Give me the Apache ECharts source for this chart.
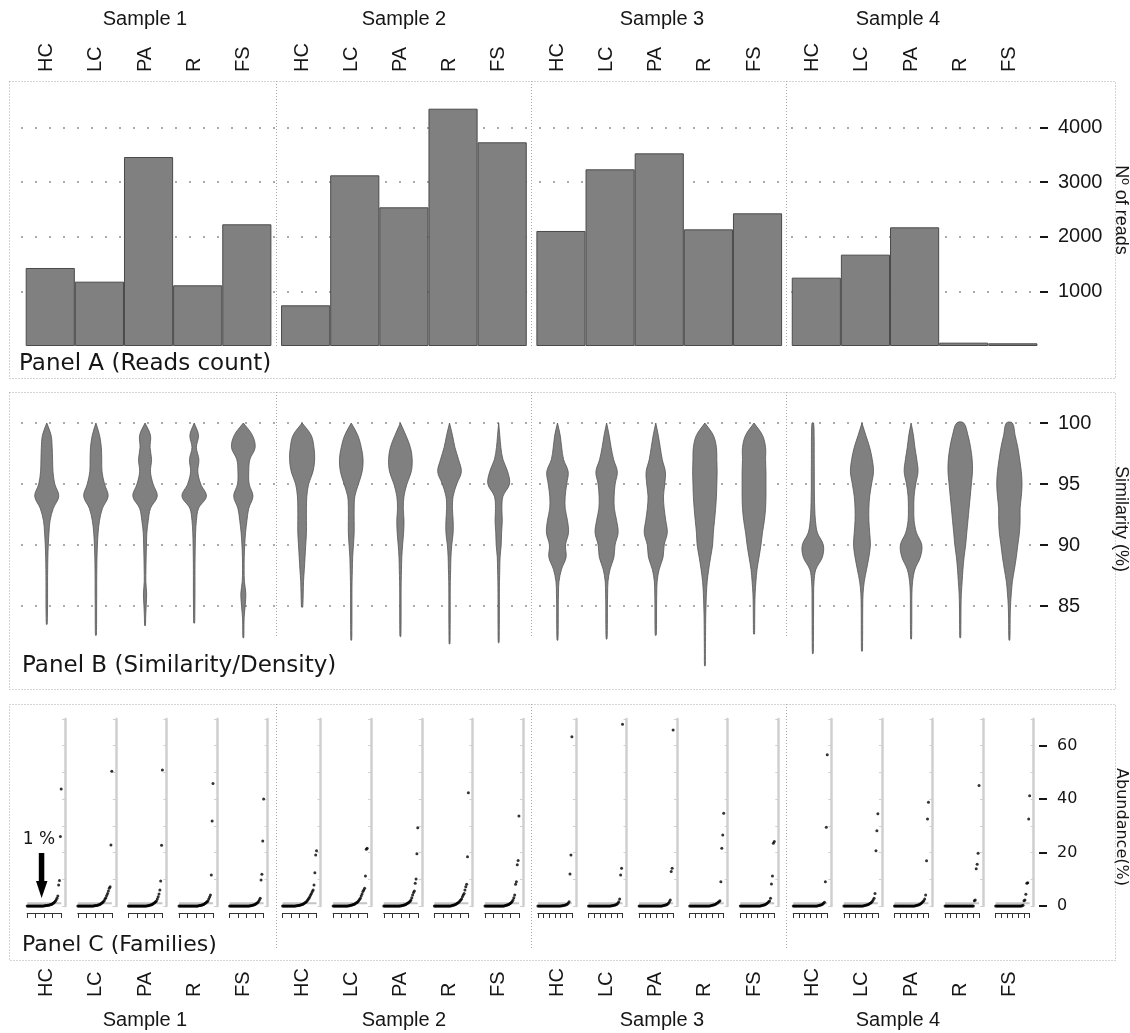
<!DOCTYPE html>
<html><head><meta charset="utf-8">
<script src="https://cdn.jsdelivr.net/npm/echarts@6.0.0/dist/echarts.min.js"></script>
<style>html,body{margin:0;padding:0;background:#fff}#c{width:1130px;height:1033px}</style>
</head><body><div id="c"></div>
<script>
// ---------------- DATA ----------------
const samples = ['Sample 1', 'Sample 2', 'Sample 3', 'Sample 4'];
const categories = ['HC', 'LC', 'PA', 'R', 'FS'];

// Panel A: number of reads
const readsTicks = [1000, 2000, 3000, 4000];
const readsSample1 = [1427, 1177, 3457, 1110, 2226];
const readsSample2 = [744, 3122, 2537, 4341, 3726];
const readsSample3 = [2104, 3232, 3524, 2134, 2427];
const readsSample4 = [1250, 1671, 2171, 61, 49];

// Panel B: similarity density (half-width of violin) at each similarity level
const simTicks = [85, 90, 95, 100];
const simLevels = [100, 99, 98, 97, 96, 95, 94, 93, 92, 91, 90, 89, 88, 87, 86, 85, 84, 83, 82, 81];
const simSample1 = [
  [0, 4.3, 5.4, 5.8, 6.2, 8, 12, 6.5, 3.3, 2.2, 1.5, 1.1, 0.9, 0.8, 0.8, 0.8, 0.6, 0, 0, 0],
  [0, 3.6, 5.4, 5.8, 6.1, 8.6, 12.2, 6.5, 3.6, 2.2, 1.5, 1.1, 0.9, 0.8, 0.8, 0.7, 0.7, 0.6, 0, 0],
  [0, 5.4, 5, 6.5, 5.4, 8, 12.2, 5.4, 3.2, 1.8, 1.4, 1.1, 0.9, 0.8, 1.6, 1.1, 0.6, 0, 0, 0],
  [0, 4.3, 2.2, 4.7, 3.6, 6.5, 12.2, 4.3, 2.2, 1.4, 1.1, 0.9, 0.8, 0.8, 0.8, 0.7, 0.6, 0, 0, 0],
  [0, 9, 11.8, 6.5, 5.4, 5.8, 9.6, 5.4, 3.6, 2.2, 1.4, 0.9, 0.8, 1.1, 2.5, 1.8, 0.8, 0.6, 0, 0]
];
const simMinSample1 = [83.5, 82.6, 83.4, 83.6, 82.4];
const simSample2 = [
  [0, 9, 11.8, 12.5, 10.8, 6.5, 4.7, 4.3, 4.3, 4.3, 3.6, 2.9, 2.2, 1.4, 1.1, 0.7, 0, 0, 0, 0],
  [0, 6.5, 10, 11.8, 10.8, 7.2, 3.6, 2.9, 2.9, 2.9, 2.2, 1.4, 1.1, 0.8, 0.7, 0.7, 0.7, 0.6, 0.5, 0],
  [0, 5.4, 10, 11.8, 10.8, 6.5, 3.6, 2.9, 3.6, 3.2, 2.2, 1.4, 1.1, 0.8, 0.7, 0.7, 0.7, 0.6, 0, 0],
  [0, 2.9, 5.4, 9, 11.8, 7.2, 3.6, 2.9, 3.6, 3.6, 2.2, 1.4, 1.1, 0.8, 0.7, 0.7, 0.7, 0.6, 0.5, 0],
  [0, 1.1, 2.2, 4.3, 9, 10.8, 4.3, 3.2, 3.6, 2.9, 2.5, 1.4, 1.1, 0.8, 0.7, 0.7, 0.7, 0.6, 0.5, 0]
];
const simMinSample2 = [84.9, 82.2, 82.5, 81.9, 82.0];
const simSample3 = [
  [0, 2.7, 4.2, 6.1, 10.7, 9.2, 7.7, 7.7, 10, 11, 8, 8.6, 4, 1.5, 1, 0.8, 0.8, 0.7, 0, 0],
  [0, 2.5, 4.5, 7, 10.7, 8.5, 7.5, 7.7, 10, 11.5, 8.4, 7.3, 3.4, 1.4, 1, 0.8, 0.8, 0.7, 0, 0],
  [0, 2.5, 4.5, 6.5, 9.6, 9, 7.7, 8.4, 10, 11.5, 8.4, 7.3, 3.4, 1.4, 1, 0.8, 0.8, 0.7, 0, 0],
  [0, 8.4, 11.5, 11.9, 12.2, 11.9, 11.5, 10.7, 9.6, 8.4, 7.7, 5.7, 3.8, 2.3, 1.5, 1.1, 0.8, 0.7, 0.6, 0.5],
  [0, 8.4, 11.5, 11.5, 11.9, 11.9, 11.9, 11.5, 10.3, 8.4, 6.9, 5, 3, 1.9, 1.1, 0.8, 0.7, 0.6, 0, 0]
];
const simMinSample3 = [82.2, 82.3, 82.6, 80.1, 82.7];
const simSample4 = [
  [0.8, 1.3, 1.4, 1.4, 1.5, 1.5, 1.6, 1.9, 2.6, 4.6, 10.5, 9.5, 3, 1.2, 0.8, 0.8, 0.7, 0.7, 0.6, 0],
  [0, 3.8, 7.7, 10.3, 11.5, 9.6, 7.7, 6.9, 6.9, 7.7, 8.4, 6.9, 4.6, 2.3, 1.1, 0.8, 0.7, 0.7, 0.6, 0],
  [0, 2.3, 3.8, 5.7, 6.9, 4.6, 3, 2.7, 3, 5.4, 10.7, 9.2, 3.8, 1.5, 0.8, 0.7, 0.7, 0.6, 0, 0],
  [3.5, 7.7, 10.3, 11.9, 12.2, 11.1, 10, 8.8, 7.7, 6.5, 5.4, 3.8, 2.7, 1.9, 1.1, 0.8, 0.7, 0.6, 0, 0],
  [3, 5.7, 8.4, 10.3, 11.9, 12.6, 11.9, 10.7, 10.7, 10, 8.4, 6.9, 5, 3, 1.9, 1.1, 0.8, 0.7, 0, 0]
];
const simMinSample4 = [81.1, 81.3, 82.3, 82.4, 82.2];

// Panel C: family abundance (%), sorted ascending, one array per category
const abundanceTicks = [0, 20, 40, 60];
const famSample1 = [
  [0,0,0,0,0,0,0,0,0,0, 0,0,0,0,0,0,0,0,0,0, 0.1,0.1,0.2,0.2,0.3,0.3,0.4,0.5,0.6,0.7,0.9,1.1,1.4,1.8,2.2,2.9,3.7,7.9,9.5,26.0,43.8],
  [0,0,0,0,0,0,0,0,0,0, 0,0,0,0,0,0,0,0,0, 0.1,0.1,0.2,0.2,0.3,0.4,0.5,0.6,0.8,1.0,1.3,1.6,2.0,2.6,3.1,3.9,4.7,5.6,6.6,7.2,22.8,50.4],
  [0,0,0,0,0,0,0,0,0,0, 0,0,0,0,0,0,0,0,0,0, 0,0, 0.1,0.1,0.2,0.3,0.4,0.5,0.6,0.8,1.0,1.3,1.6,1.9,2.6,3.5,4.5,6.0,9.4,22.7,50.9],
  [0,0,0,0,0,0,0,0,0,0, 0,0,0,0,0,0,0,0,0,0, 0,0,0, 0.1,0.2,0.2,0.3,0.4,0.5,0.6,0.8,1.0,1.3,1.6,1.9,2.6,3.4,4.1,11.6,31.8,45.9],
  [0,0,0,0,0,0,0,0,0,0, 0,0,0,0,0,0,0,0,0,0, 0,0,0,0, 0.1,0.1,0.2,0.3,0.4,0.5,0.6,0.8,1.0,1.3,1.7,2.2,2.9,9.7,11.9,24.3,40.1]
];
const famSample2 = [
  [0,0,0,0,0,0,0,0,0,0, 0,0,0,0,0,0, 0.1,0.1,0.2,0.2,0.3,0.4,0.5,0.6,0.7,0.9,1.1,1.3,1.6,2.0,2.4,2.9,3.5,4.1,4.7,5.4,6.0,7.9,12.4,19.1,20.7],
  [0,0,0,0,0,0,0,0,0,0, 0,0,0,0,0,0,0,0, 0.1,0.1,0.2,0.3,0.4,0.5,0.6,0.7,0.9,1.1,1.3,1.6,2.0,2.4,2.9,3.7,4.5,5.4,6.0,6.6,11.2,21.2,21.6],
  [0,0,0,0,0,0,0,0,0,0, 0,0,0,0,0,0,0,0,0,0, 0.1,0.1,0.2,0.3,0.4,0.5,0.6,0.8,1.0,1.2,1.5,1.8,2.2,3.1,4.1,5.1,5.6,8.5,10.1,19.6,29.3],
  [0,0,0,0,0,0,0,0,0,0, 0,0,0,0,0,0,0,0,0,0, 0.1,0.2,0.3,0.4,0.5,0.6,0.8,1.0,1.2,1.5,1.9,2.2,2.6,3.5,4.1,4.7,6.0,7.2,8.1,18.4,42.4],
  [0,0,0,0,0,0,0,0,0,0, 0,0,0,0,0,0,0,0,0,0, 0,0,0, 0.1,0.2,0.3,0.4,0.5,0.6,0.8,1.0,1.3,1.7,2.2,3.1,4.1,8.1,9.1,15.4,17.0,33.7]
];
const famSample3 = [
  [0,0,0,0,0,0,0,0,0,0, 0,0,0,0,0,0,0,0,0,0, 0,0,0,0,0, 0.1,0.1,0.2,0.3,0.4,0.5,0.7,1.0,1.6,12.0,19.1,63.4],
  [0,0,0,0,0,0,0,0,0,0, 0,0,0,0,0,0,0,0,0,0, 0,0,0,0, 0.1,0.1,0.2,0.3,0.4,0.5,0.7,1.0,1.6,2.6,11.6,14.1,68.0],
  [0,0,0,0,0,0,0,0,0,0, 0,0,0,0,0,0,0,0,0,0, 0,0,0,0,0, 0.1,0.2,0.3,0.4,0.5,0.7,1.0,1.6,2.2,12.9,14.1,65.9],
  [0,0,0,0,0,0,0,0,0,0, 0,0,0,0,0,0,0,0,0,0, 0,0, 0.1,0.2,0.3,0.4,0.5,0.6,0.8,1.0,1.4,1.6,2.0,9.1,21.6,26.6,34.7],
  [0,0,0,0,0,0,0,0,0,0, 0,0,0,0,0,0,0,0,0,0, 0,0, 0.1,0.2,0.3,0.4,0.5,0.7,0.9,1.2,1.6,1.9,2.9,8.2,11.2,23.5,24.1]
];
const famSample4 = [
  [0,0,0,0,0,0,0,0,0,0, 0,0,0,0,0,0,0,0,0,0, 0,0,0,0,0,0, 0.1,0.2,0.3,0.4,0.5,0.7,1.0,1.4,9.1,29.5,56.6],
  [0,0,0,0,0,0,0,0,0,0, 0,0,0,0,0,0,0,0,0,0, 0, 0.1,0.2,0.3,0.4,0.5,0.6,0.8,1.0,1.3,1.7,2.2,2.9,4.7,20.7,28.2,34.5],
  [0,0,0,0,0,0,0,0,0,0, 0,0,0,0,0,0,0,0,0,0, 0,0, 0.1,0.2,0.3,0.4,0.5,0.7,0.9,1.2,1.6,2.0,2.6,4.1,16.9,32.6,38.8],
  [0,0,0,0,0,0,0,0,0,0, 0,0,0,0,0,0,0,0,0,0, 0,0,0,0,0,0,0,0,0,0, 0, 2.0,2.2,13.9,15.6,19.7,45.1],
  [0,0,0,0,0,0,0,0,0,0, 0,0,0,0,0,0,0,0,0,0, 0,0,0,0,0,0,0,0, 0.1,0.3,2.0,2.2,4.4,8.5,8.7,32.6,41.3]
];

// ---------------- BUILD ----------------
const readsAll = [readsSample1, readsSample2, readsSample3, readsSample4];
const simAll = [simSample1, simSample2, simSample3, simSample4];
const simMinAll = [simMinSample1, simMinSample2, simMinSample3, simMinSample4];
const famAll = [famSample1, famSample2, famSample3, famSample4];

const LAB = 'Liberation Sans';
const DJV = 'DejaVu Sans';
const INK = '#161616';
const GRID_DOT = {type: [2, 12], color: '#aaaaaa', width: 2};
const sampleLeft = s => 25.7 + s * 255.35;
const SW = 245.7;

const grid = [], xAxis = [], yAxis = [], series = [];
function addGrid(g, xa, ya) {
  const i = grid.length;
  grid.push(g); xa.gridIndex = i; ya.gridIndex = i;
  xAxis.push(xa); yAxis.push(ya);
  return i;
}
function labelAxis(min, max, interval, font, size, split) {
  return {
    type: 'value', min: min, max: max, interval: interval, position: 'right', offset: 4,
    axisLine: {show: false, onZero: false},
    axisTick: {show: true, length: 8, lineStyle: {color: INK, width: 2}},
    axisLabel: {margin: 18, fontFamily: font, fontSize: size, color: INK, formatter: v => String(v)},
    splitLine: split ? {show: true, lineStyle: GRID_DOT} : {show: false}
  };
}
const hiddenX = () => ({type: 'value', show: false, min: 0, max: 1, axisLine: {onZero: false}});

// Panel A background (gridlines + right axis)
addGrid({left: 21, top: 127.33, width: 1015, height: 164}, hiddenX(),
  labelAxis(readsTicks[0], readsTicks[readsTicks.length - 1], readsTicks[1] - readsTicks[0], LAB, 20, true));
// Panel B background
addGrid({left: 21, top: 423, width: 1015, height: 183}, hiddenX(),
  labelAxis(simTicks[0], simTicks[simTicks.length - 1], simTicks[1] - simTicks[0], LAB, 20, true));
// Panel C background
addGrid({left: 21, top: 745.7, width: 1014, height: 160.3}, hiddenX(),
  labelAxis(abundanceTicks[0], abundanceTicks[abundanceTicks.length - 1], abundanceTicks[1] - abundanceTicks[0], DJV, 16, false));

for (let s = 0; s < 4; s++) {
  // Panel A bars
  const ga = addGrid({left: sampleLeft(s), top: 100, width: SW, height: 246},
    {type: 'category', data: categories, show: false},
    {type: 'value', min: 0, max: 4500, show: false});
  series.push({
    type: 'bar', xAxisIndex: ga, yAxisIndex: ga, data: readsAll[s], barWidth: '100%',
    itemStyle: {color: '#808080', borderColor: '#4a4a4a', borderWidth: 1}, silent: true
  });

  // Panel B violins
  const gb = addGrid({left: sampleLeft(s) - 3.5, top: 423, width: SW, height: 244},
    {type: 'category', data: categories, show: false},
    {type: 'value', min: 80, max: 100, show: false});
  const dens = simAll[s], mins = simMinAll[s];
  series.push({
    type: 'custom', xAxisIndex: gb, yAxisIndex: gb, silent: true,
    data: categories.map((c, k) => [k, 100]), encode: {x: 0, y: 1},
    renderItem: function (params, api) {
      const k = api.value(0);
      const d = dens[k], mn = mins[k];
      const sc = api.size([1, 0])[0] / 49;
      const right = [], left = [];
      for (let i = 0; i < simLevels.length; i++) {
        const lv = simLevels[i];
        if (lv <= mn) break;
        const p = api.coord([k, lv]);
        const w = d[i] * sc;
        right.push([p[0] + w, p[1]]);
        left.push([p[0] - w, p[1]]);
      }
      const pe = api.coord([k, mn]);
      right.push([pe[0] + 0.4, pe[1]]);
      left.push([pe[0] - 0.4, pe[1]]);
      const pts = right.concat(left.reverse());
      return {type: 'polygon', shape: {points: pts, smooth: 0.35},
        style: {fill: '#808080', stroke: '#555555', lineWidth: 0.8}};
    }
  });

  // Panel C per-category dot plots
  for (let k = 0; k < 5; k++) {
    const arr = famAll[s][k];
    const n = arr.length - 1;
    const gc = addGrid({left: sampleLeft(s) + 1.5 + k * 50.6, top: 719, width: 34, height: 187},
      {type: 'value', min: 0, max: n, interval: n / (s < 2 ? 4 : 6), position: 'bottom', offset: 7,
        axisLine: {show: true, onZero: false, lineStyle: {color: '#333', width: 1}},
        axisTick: {show: true, length: 5, lineStyle: {color: '#333', width: 1}},
        axisLabel: {show: false}, splitLine: {show: false}},
      {type: 'value', min: 0, max: 70, interval: 10, position: 'right', offset: 4,
        axisLine: {show: true, onZero: false, lineStyle: {color: '#cfcfcf', width: 2.5}},
        axisTick: {show: true, inside: true, length: 3, lineStyle: {color: '#cfcfcf', width: 1}},
        axisLabel: {show: false}, splitLine: {show: false}});
    series.push({
      type: 'line', xAxisIndex: gc, yAxisIndex: gc, data: [[0, 1], [n, 1]], symbol: 'none', silent: true, z: 1,
      lineStyle: {color: '#c4c4c4', width: 2}
    });
    series.push({
      type: 'scatter', xAxisIndex: gc, yAxisIndex: gc, data: arr.map((v, i) => [i, v]),
      symbolSize: 3, itemStyle: {color: '#000'}, silent: true, z: 3
    });
  }

  // top and bottom category labels
  [75, 1000].forEach(top => {
    addGrid({left: sampleLeft(s) - 3.5, top: top, width: SW, height: 4},
      {type: 'category', data: categories, position: 'top',
        axisLine: {show: false}, axisTick: {show: false},
        axisLabel: {rotate: 90, margin: 3, interval: 0, fontFamily: LAB, fontSize: 20, color: INK}},
      {type: 'value', show: false});
  });
}

// ---------------- DECORATION ----------------
const graphic = [];
const boxStyle = {fill: 'none', stroke: '#a8a8a8', lineWidth: 1, lineDash: [1, 2]};
[[81, 297], [392, 297], [704, 256]].forEach(([y, h]) => {
  graphic.push({type: 'rect', silent: true, z: -1, shape: {x: 9.5, y: y + 0.5, width: 1106, height: h}, style: boxStyle});
});
[[81, 346], [392, 637], [704, 948]].forEach(([y1, y2]) => {
  [276.5, 531.5, 786.5].forEach(x => {
    graphic.push({type: 'line', silent: true, z: -1, shape: {x1: x, y1: y1, x2: x, y2: y2}, style: boxStyle});
  });
});
function txt(text, x, y, font, align, rot) {
  return {type: 'text', x: x, y: y, rotation: rot || 0, silent: true,
    style: {text: text, x: 0, y: 0, font: font, fill: INK,
      align: align || 'center', textAlign: align || 'center', verticalAlign: 'middle', textVerticalAlign: 'middle'}};
}
const sampleX = [145, 404, 662, 898];
samples.forEach((t, s) => {
  graphic.push(txt(t, sampleX[s], 19, '20px "' + LAB + '"'));
  graphic.push(txt(t, sampleX[s], 1020, '20px "' + LAB + '"'));
});
graphic.push(txt('Panel A (Reads count)', 19, 364, '23px "' + DJV + '"', 'left'));
graphic.push(txt('Panel B (Similarity/Density)', 22, 666, '23px "' + DJV + '"', 'left'));
graphic.push(txt('Panel C (Families)', 22, 945, '22px "' + DJV + '"', 'left'));
graphic.push(txt('Nº of reads', 1121, 210, '18px "' + LAB + '"', 'center', -Math.PI / 2));
graphic.push(txt('Similarity (%)', 1121, 519, '18px "' + LAB + '"', 'center', -Math.PI / 2));
graphic.push(txt('Abundance(%)', 1121, 827, '16px "' + DJV + '"', 'center', -Math.PI / 2));
graphic.push(txt('1 %', 39, 840, '17px "' + DJV + '"'));
graphic.push({type: 'rect', silent: true, shape: {x: 38.8, y: 853, width: 5.5, height: 30}, style: {fill: '#000'}});
graphic.push({type: 'polygon', silent: true, shape: {points: [[36, 881], [47.5, 881], [41.6, 898]]}, style: {fill: '#000'}});

const chart = echarts.init(document.getElementById('c'), null, {renderer: 'canvas'});
chart.setOption({
  animation: false,
  backgroundColor: '#ffffff',
  grid: grid, xAxis: xAxis, yAxis: yAxis, series: series, graphic: graphic
});
</script>
</body></html>
